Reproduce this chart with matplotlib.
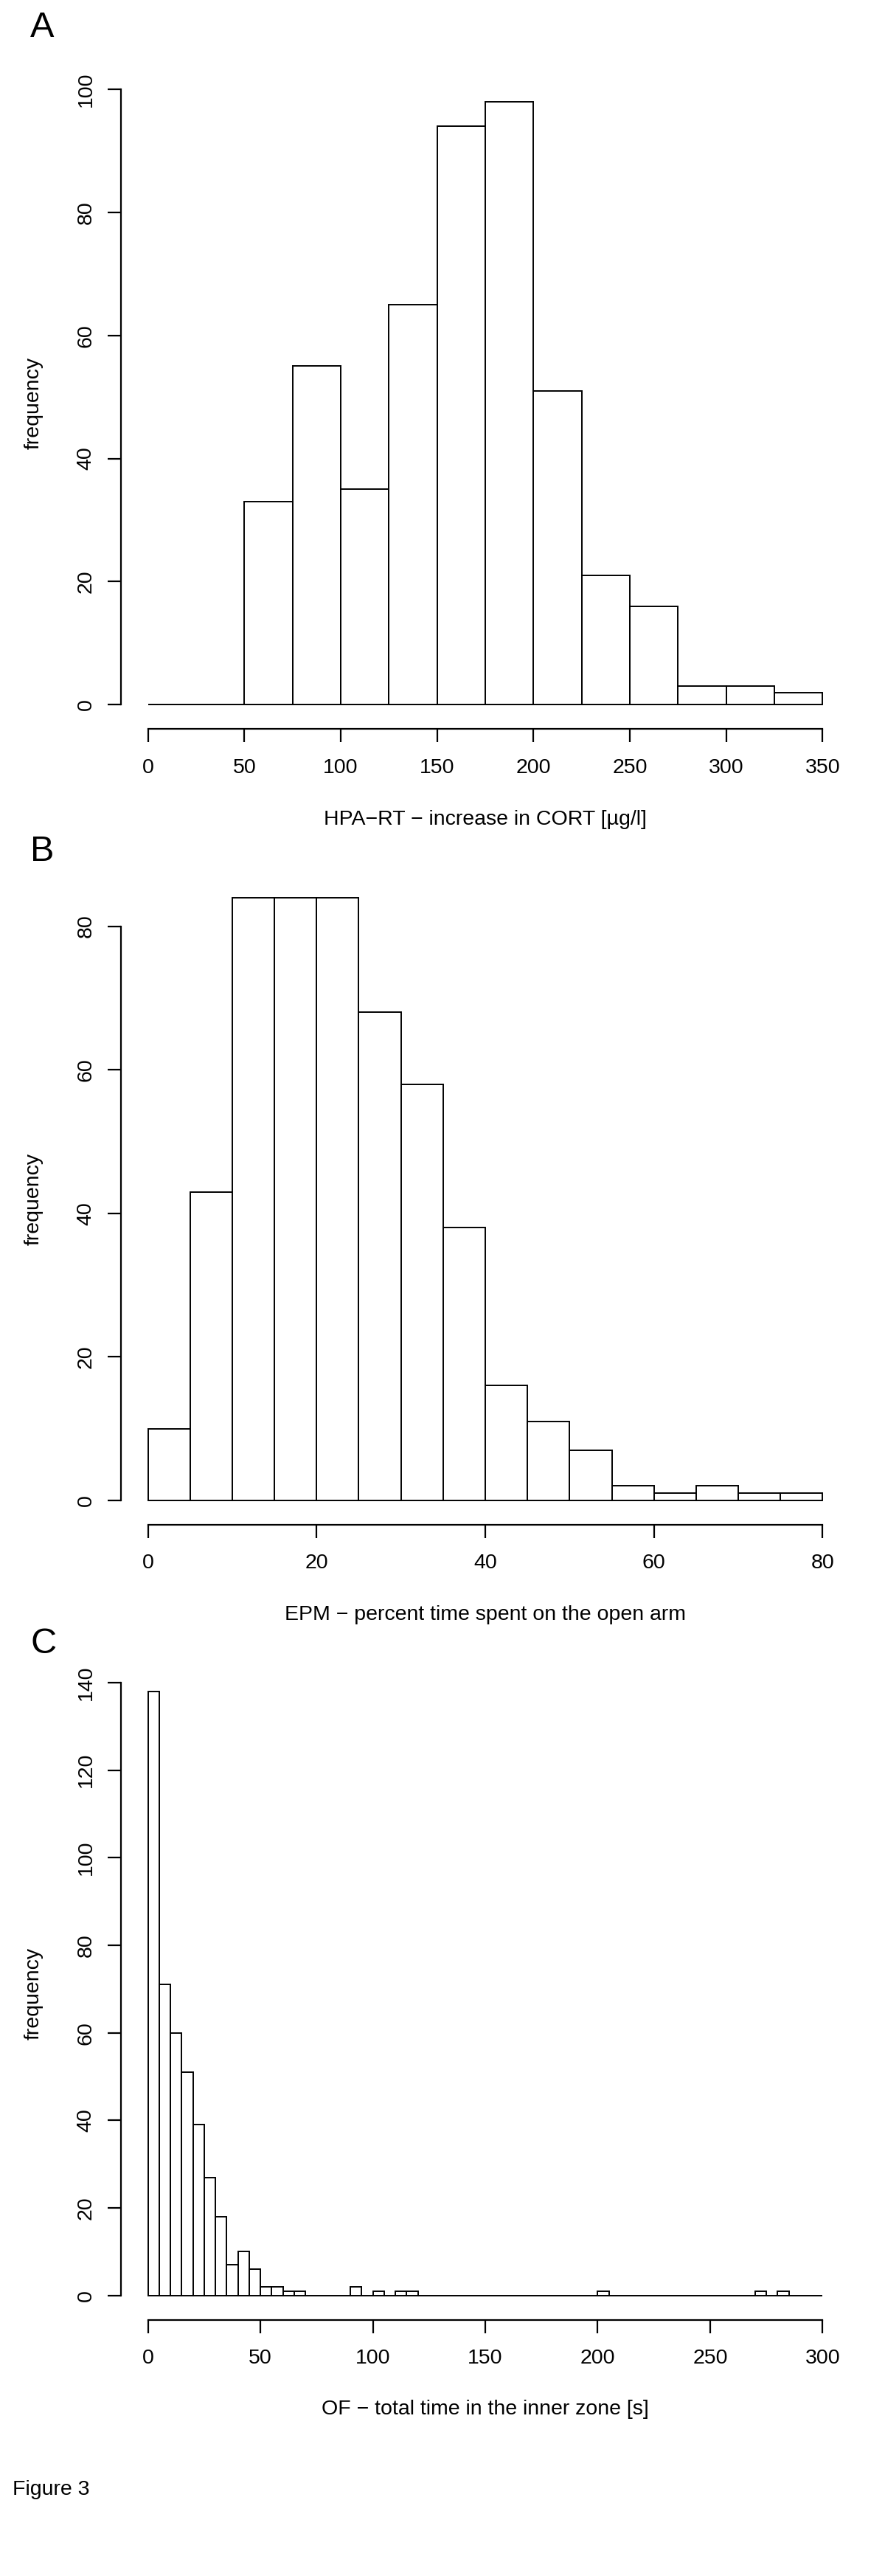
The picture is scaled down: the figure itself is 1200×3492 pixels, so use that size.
import numpy as np
import matplotlib
matplotlib.use("Agg")
import matplotlib.pyplot as plt

plt.rcParams['font.family'] = ['Liberation Sans', 'DejaVu Sans']

# panel A: HPA-RT, bins of 25 from 0 to 350
cort_edges = np.arange(0, 351, 25)
cort_counts = [0, 0, 33, 55, 35, 65, 94, 98, 51, 21, 16, 3, 3, 2]

# panel B: EPM, bins of 5 from 0 to 80
epm_edges = np.arange(0, 81, 5)
epm_counts = [10, 43, 84, 84, 84, 68, 58, 38, 16, 11, 7, 2, 1, 2, 1, 1]

# panel C: OF, bins of 5 from 0 to 300
of_edges = np.arange(0, 301, 5)
of_counts = [138, 71, 60, 51, 39, 27, 18, 7, 10, 6, 2, 2, 1, 1,
             0, 0, 0, 0, 2, 0, 1, 0, 1, 1,
             0, 0, 0, 0, 0, 0, 0, 0, 0, 0, 0, 0, 0, 0, 0, 0,
             1, 0, 0, 0, 0, 0, 0, 0, 0, 0, 0, 0, 0, 0,
             1, 0, 1, 0, 0, 0]

panels = [
    ("A", cort_edges, cort_counts, np.arange(0, 351, 50), np.arange(0, 101, 20),
     "HPA\u2212RT \u2212 increase in CORT [\u00b5g/l]"),
    ("B", epm_edges, epm_counts, np.arange(0, 81, 20), np.arange(0, 81, 20),
     "EPM \u2212 percent time spent on the open arm"),
    ("C", of_edges, of_counts, np.arange(0, 301, 50), np.arange(0, 141, 20),
     "OF \u2212 total time in the inner zone [s]"),
]

W, H = 1200, 3492
fig = plt.figure(figsize=(W / 100, H / 100), dpi=100)

# pixel boxes (left, top, right, bottom) of each plot region
boxes = [(164, 105, 1152, 988), (164, 1184, 1152, 2066.5), (164, 2260, 1152, 3144.5)]
letter_base = [50, 1167, 2241]
xlabel_y = [1111, 2189, 3266]

fs = 20.5
for (letter, edges, counts, xt, yt, xlab), (l, t, r, b), lb, xy in zip(panels, boxes, letter_base, xlabel_y):
    ax = fig.add_axes([l / W, 1 - b / H, (r - l) / W, (b - t) / H])
    ax.bar(edges[:-1], counts, width=np.diff(edges), align='edge',
           facecolor='white', edgecolor='black', linewidth=1.4)
    xr = xt[-1] - xt[0]
    ax.set_xlim(xt[0] - 0.04 * xr, xt[-1] + 0.04 * xr)
    ym = max(counts)
    ax.set_ylim(-0.04 * ym, ym * 1.04)
    for s in ['top', 'right']:
        ax.spines[s].set_visible(False)
    ax.spines['left'].set_bounds(yt[0], yt[-1])
    ax.spines['bottom'].set_bounds(xt[0], xt[-1])
    for s in ['left', 'bottom']:
        ax.spines[s].set_linewidth(1.6)
    ax.set_xticks(xt)
    ax.set_yticks(yt)
    ax.tick_params(axis='both', direction='out', length=12.8, width=1.6, labelsize=fs)
    ax.tick_params(axis='x', pad=16)
    ax.tick_params(axis='y', pad=12)
    for lab in ax.get_yticklabels():
        lab.set_rotation(90)
        lab.set_va('center')
    fig.text(41 / W, 1 - lb / H, letter, fontsize=35, ha='left', va='baseline')
    fig.text(46 / W, 1 - (t + b) / 2 / H, "frequency", fontsize=fs, rotation=90,
             ha='center', va='center')
    fig.text((l + r) / 2 / W, 1 - xy / H, xlab, fontsize=fs, ha='center', va='center')

fig.text(17 / W, 1 - 3382 / H, "Figure 3", fontsize=fs, ha='left', va='baseline')

fig.savefig("out.png", dpi=100, facecolor='white')
